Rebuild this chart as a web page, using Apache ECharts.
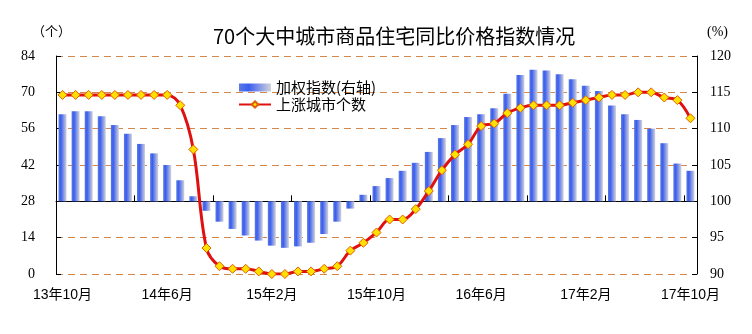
<!DOCTYPE html>
<html>
<head>
<meta charset="utf-8">
<script src="https://cdn.jsdelivr.net/npm/echarts@6/dist/echarts.min.js"></script>
<style>
html,body{margin:0;padding:0;background:#fff;}
#chart{width:752px;height:334px;}
</style>
</head>
<body>
<div id="chart"></div>
<script>
var months = [
  '13年10月','13年11月','13年12月',
  '14年1月','14年2月','14年3月','14年4月','14年5月','14年6月','14年7月','14年8月','14年9月','14年10月','14年11月','14年12月',
  '15年1月','15年2月','15年3月','15年4月','15年5月','15年6月','15年7月','15年8月','15年9月','15年10月','15年11月','15年12月',
  '16年1月','16年2月','16年3月','16年4月','16年5月','16年6月','16年7月','16年8月','16年9月','16年10月','16年11月','16年12月',
  '17年1月','17年2月','17年3月','17年4月','17年5月','17年6月','17年7月','17年8月','17年9月','17年10月'
];
var weightedIndex = [
  112.0,112.4,112.4,
  111.7,110.5,109.3,107.9,106.6,105.0,102.9,100.7,98.7,97.2,96.2,95.3,
  94.6,93.9,93.6,93.8,94.3,95.5,97.2,99.0,100.9,102.1,103.2,104.2,
  105.3,106.8,108.7,110.5,111.6,112.0,112.8,114.8,117.4,118.1,118.0,117.5,
  116.8,115.9,115.2,113.2,112.0,111.2,110.0,108.0,105.2,104.2
];
var risingCities = [
  69,69,69,
  69,69,69,69,69,69,65,48,10,3,2,2,
  1,0,0,1,1,2,3,9,12,16,21,21,
  25,32,40,46,50,57,58,62,64,65,65,65,
  66,67,68,69,69,70,70,68,67,60
];
var leftTicks = {min:0, max:84, interval:14};
var rightTicks = {min:90, max:120, interval:5, base:100};
var titleText = '70个大中城市商品住宅同比价格指数情况';
var barName = '加权指数(右轴)';
var lineName = '上涨城市个数';

var chart = echarts.init(document.getElementById('chart'), null, {renderer:'canvas'});
var serif = 'Liberation Serif, Times New Roman, serif';
var cjk = 'Noto Sans CJK SC, sans-serif';
var base = rightTicks.base;

var option = {
  animation: false,
  backgroundColor: '#fff',
  title: {
    text: titleText,
    left: 208, top: 21,
    textStyle: {fontFamily: cjk, fontSize: 20, fontWeight: 'normal', color: '#000'}
  },
  graphic: [
    {type:'text', left: 32, top: 25, style:{text:'（个）', font:'13px Noto Sans CJK SC', fill:'#000'}},
    {type:'text', left: 707, top: 25, style:{text:'(%)', font:'14px Liberation Serif', fill:'#000'}}
  ],
  legend: {
    orient: 'vertical',
    left: 238, top: 80,
    itemWidth: 32, itemHeight: 8, itemGap: 2,
    padding: 0,
    textStyle: {fontFamily: cjk, fontSize: 15, color: '#000'},
    data: [{name: barName, icon: 'rect'}, {name: lineName}]
  },
  grid: {left: 56, right: 55, top: 56, bottom: 60, containLabel: false},
  xAxis: [
    {
      type: 'category', data: months, boundaryGap: true,
      axisLine: {show: true, onZero: true, onZeroAxisIndex: 1, lineStyle: {color: '#000', width: 1}},
      axisTick: {show: true, inside: true, length: 6, interval: 5, lineStyle: {color: '#000'}},
      axisLabel: {show: false},
      splitLine: {show: false}
    },
    {
      type: 'category', data: months, boundaryGap: true, position: 'bottom',
      axisLine: {show: false, onZero: false},
      axisTick: {show: false},
      axisLabel: {show: true, interval: 7, margin: 14, fontSize: 14, fontFamily: 'Liberation Sans, Noto Sans CJK SC, sans-serif', color: '#000'},
      splitLine: {show: false}
    }
  ],
  yAxis: [
    {
      type: 'value', position: 'left',
      min: leftTicks.min, max: leftTicks.max, interval: leftTicks.interval,
      axisLine: {show: true, lineStyle: {color: '#000'}},
      axisTick: {show: true, inside: true, length: 5, lineStyle: {color: '#000'}},
      axisLabel: {margin: 21, fontFamily: serif, fontSize: 14, color: '#000'},
      splitLine: {show: true, lineStyle: {color: '#d4884a', type: [7, 5], width: 1}}
    },
    {
      type: 'value', position: 'right',
      min: rightTicks.min - base, max: rightTicks.max - base, interval: rightTicks.interval,
      axisLine: {show: true, lineStyle: {color: '#000'}},
      axisTick: {show: true, inside: true, length: 5, lineStyle: {color: '#000'}},
      axisLabel: {margin: 13, fontFamily: serif, fontSize: 14, color: '#000',
        formatter: function (v) { return String(Math.round(v + base)); }},
      splitLine: {show: false}
    }
  ],
  series: [
    {
      name: barName, type: 'bar', xAxisIndex: 0, yAxisIndex: 1,
      barWidth: 8,
      data: weightedIndex.map(function (v) { return +(v - base).toFixed(2); }),
      itemStyle: {
        color: {type: 'linear', x: 0, y: 0, x2: 1, y2: 0, colorStops: [
          {offset: 0, color: '#5a7ae2'},
          {offset: 0.3, color: '#3a5ef0'},
          {offset: 1, color: '#d2d3db'}
        ]}
      },
      z: 2
    },
    {
      name: lineName, type: 'line', xAxisIndex: 0, yAxisIndex: 0,
      data: risingCities,
      smooth: 0.35,
      showSymbol: true, showAllSymbol: true,
      symbol: 'diamond', symbolSize: 9,
      lineStyle: {color: '#e01010', width: 3},
      itemStyle: {color: '#ffe000', borderColor: '#e06000', borderWidth: 1},
      z: 3
    }
  ]
};
chart.setOption(option);
</script>
</body>
</html>
